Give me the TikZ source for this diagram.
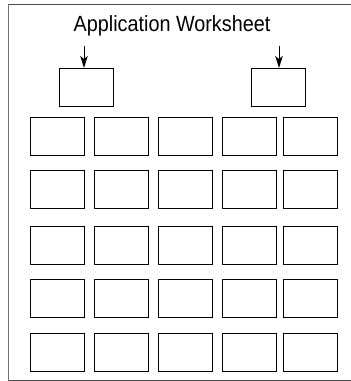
\documentclass[tikz,border=0pt]{standalone}
\usepackage{fontspec}
\setmainfont{Liberation Sans}
\usetikzlibrary{arrows.meta}
\begin{document}
\begin{tikzpicture}[x=1pt,y=-1pt,
  cell/.style={draw=black,line width=0.8pt,minimum width=54pt,minimum height=38pt,inner sep=0pt,outer sep=0pt},
  pointer/.style={line width=1pt,-{Stealth[length=12pt,width=7.5pt,inset=3pt]}},
  frame/.style={draw=black!70,line width=1pt}]
\useasboundingbox (0,0) rectangle (351,381);
\draw[frame] (351,4.5) -- (8.5,4.5);
\draw[draw=black!55,line width=1.4pt] (8.5,4) -- (8.5,380.5);
\draw[frame] (8.5,380) -- (351,380);
\node[inner sep=0pt,anchor=base] (title) at (172,31.7) {\fontsize{22pt}{24pt}\selectfont\scalebox{0.9}[1]{Application Worksheet}};
\node[cell] (ta) at (86,87) {};
\node[cell] (tb) at (278,87) {};
\coordinate (sa) at (84,45.5);
\coordinate (sb) at (279,45.5);
\draw[pointer] (sa) -- (sa |- ta.north);
\draw[pointer] (sb) -- (sb |- tb.north);
\foreach \r/\y in {1/136,2/189.5,3/245.5,4/298.5,5/352.5}{
  \foreach \c/\x in {1/57,2/121,3/185,4/249,5/310}{
    \node[cell] (c\r\c) at (\x,\y) {};
  }
}
\end{tikzpicture}
\end{document}
